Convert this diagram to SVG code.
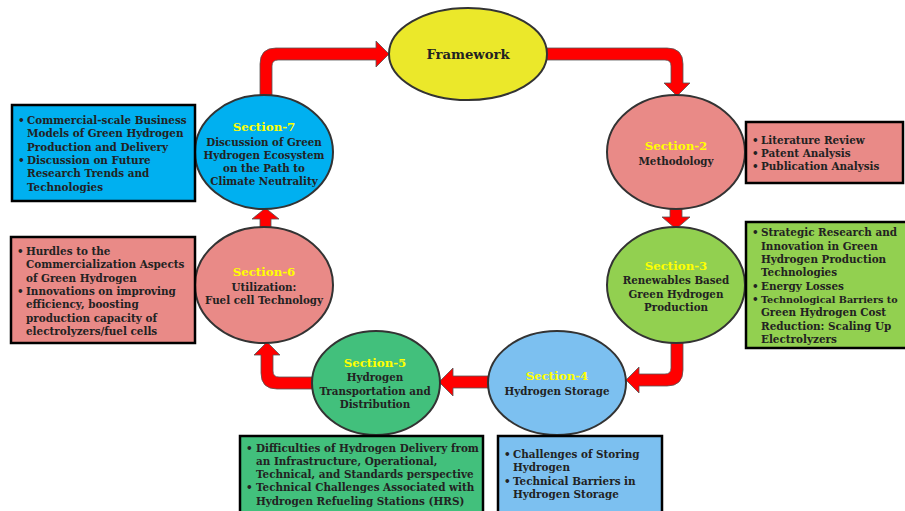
<svg xmlns="http://www.w3.org/2000/svg" width="905" height="511" viewBox="0 0 905 511">
<style>
text{font-family:"DejaVu Serif","Liberation Serif",serif;font-weight:bold;fill:#222;}
.t{font-size:10.4px;}
.c{font-size:10.3px;text-anchor:middle;}
.s{font-size:11.8px;text-anchor:middle;fill:#ffff00;}
.fw{font-size:13.2px;text-anchor:middle;}
.n{stroke:#333;stroke-width:2;}
.b{stroke:#000;stroke-width:2.5;}
.arr{fill:#ff0000;stroke:#555;stroke-width:0.8;stroke-linejoin:miter;}
.pink{fill:#e98a87;}
.yel{fill:#ebe82a;}
.grn{fill:#92d050;}
.lblue{fill:#7cc0f0;}
.dgrn{fill:#42c07c;}
.cyan{fill:#00b0f0;}
</style>
<rect width="905" height="511" fill="#ffffff"/>
<g id="connectors">
<path class="arr" d="M260,97 L260,64 Q260,48 276,48 L376,48 L376,41 L389,54 L376,67 L376,60 L278,60 Q272,60 272,66 L272,97 Z"/>
<path class="arr" d="M545,48 L667,48 Q683,48 683,64 L683,83 L690,83 L677,96 L664,83 L671,83 L671,66 Q671,60 665,60 L545,60 Z"/>
<path class="arr" d="M670,205 L670,217 L662,217 L676,229 L690,217 L682,217 L682,205 Z"/>
<path class="arr" d="M671,340 L671,368 Q671,374 665,374 L639,374 L639,367 L626,380 L639,393 L639,386 L667,386 Q683,386 683,370 L683,340 Z"/>
<path class="arr" d="M492,376 L453,376 L453,368 L439,382 L453,396 L453,388 L492,388 Z"/>
<path class="arr" d="M314,377 L279,377 Q273,377 273,371 L273,355 L280,355 L267,342 L254,355 L261,355 L261,373 Q261,389 277,389 L314,389 Z"/>
<path class="arr" d="M260,230 L260,219 L252,219 L265.5,208 L279,219 L271,219 L271,230 Z"/>
</g>
<g id="framework">
<ellipse class="n yel" cx="468" cy="54" rx="79" ry="46"/>
<text class="fw" x="468" y="59">Framework</text>
</g>
<g id="section2">
<ellipse class="n pink" cx="676" cy="152" rx="69" ry="57"/>
<text class="s" x="676" y="150">Section-2</text>
<text class="c" x="676" y="165">Methodology</text>
</g>
<g id="box2">
<rect class="b pink" x="746" y="122" width="157" height="61"/>
<text class="t" x="752" y="144">•</text><text class="t" x="761" y="144">Literature Review</text>
<text class="t" x="752" y="157">•</text><text class="t" x="761" y="157">Patent Analysis</text>
<text class="t" x="752" y="170">•</text><text class="t" x="761" y="170">Publication Analysis</text>
</g>
<g id="section3">
<ellipse class="n grn" cx="676" cy="285" rx="69" ry="58"/>
<text class="s" x="676" y="270">Section-3</text>
<text class="c" x="676" y="284">Renewables Based</text>
<text class="c" x="676" y="298">Green Hydrogen</text>
<text class="c" x="676" y="311">Production</text>
</g>
<g id="box3">
<rect class="b grn" x="746" y="222" width="170" height="126"/>
<text class="t" x="752" y="236">•</text><text class="t" x="761" y="236">Strategic Research and</text>
<text class="t" x="761" y="250">Innovation in Green</text>
<text class="t" x="761" y="263">Hydrogen Production</text>
<text class="t" x="761" y="276">Technologies</text>
<text class="t" x="752" y="290">•</text><text class="t" x="761" y="290">Energy Losses</text>
<text class="t" x="752" y="303">•</text><text class="t" x="761" y="303" style="font-size:9.6px">Technological Barriers to</text>
<text class="t" x="761" y="316">Green Hydrogen Cost</text>
<text class="t" x="761" y="330">Reduction: Scaling Up</text>
<text class="t" x="761" y="343">Electrolyzers</text>
</g>
<g id="section4">
<ellipse class="n lblue" cx="557" cy="383" rx="69" ry="52"/>
<text class="s" x="557" y="380">Section-4</text>
<text class="c" x="557" y="395">Hydrogen Storage</text>
</g>
<g id="box4">
<rect class="b lblue" x="498" y="436" width="164" height="78"/>
<text class="t" x="504" y="458">•</text><text class="t" x="513" y="458">Challenges of Storing</text>
<text class="t" x="513" y="471">Hydrogen</text>
<text class="t" x="504" y="485">•</text><text class="t" x="513" y="485">Technical Barriers in</text>
<text class="t" x="513" y="498">Hydrogen Storage</text>
</g>
<g id="section5">
<ellipse class="n dgrn" cx="376" cy="383" rx="64" ry="52"/>
<text class="s" x="375" y="367">Section-5</text>
<text class="c" x="375" y="381">Hydrogen</text>
<text class="c" x="375" y="395">Transportation and</text>
<text class="c" x="375" y="408">Distribution</text>
</g>
<g id="box5">
<rect class="b dgrn" x="240" y="436" width="243" height="78"/>
<text class="t" x="246" y="452">•</text><text class="t" x="256" y="452">Difficulties of Hydrogen Delivery from</text>
<text class="t" x="256" y="465">an Infrastructure, Operational,</text>
<text class="t" x="256" y="478">Technical, and Standards perspective</text>
<text class="t" x="246" y="491">•</text><text class="t" x="256" y="491">Technical Challenges Associated with</text>
<text class="t" x="256" y="505">Hydrogen Refueling Stations (HRS)</text>
</g>
<g id="section6">
<ellipse class="n pink" cx="264" cy="285" rx="69" ry="58"/>
<text class="s" x="264" y="276">Section-6</text>
<text class="c" x="264" y="291">Utilization:</text>
<text class="c" x="264" y="304">Fuel cell Technology</text>
</g>
<g id="box6">
<rect class="b pink" x="11" y="237" width="184" height="106"/>
<text class="t" x="17" y="255">•</text><text class="t" x="26" y="255">Hurdles to the</text>
<text class="t" x="26" y="268">Commercialization Aspects</text>
<text class="t" x="26" y="282">of Green Hydrogen</text>
<text class="t" x="17" y="295">•</text><text class="t" x="26" y="295">Innovations on improving</text>
<text class="t" x="26" y="308">efficiency, boosting</text>
<text class="t" x="26" y="322">production capacity of</text>
<text class="t" x="26" y="335">electrolyzers/fuel cells</text>
</g>
<g id="section7">
<ellipse class="n cyan" cx="264" cy="152" rx="69" ry="57"/>
<text class="s" x="264" y="131">Section-7</text>
<text class="c" x="264" y="146">Discussion of Green</text>
<text class="c" x="264" y="159">Hydrogen Ecosystem</text>
<text class="c" x="264" y="172">on the Path to</text>
<text class="c" x="264" y="185">Climate Neutrality</text>
</g>
<g id="box7">
<rect class="b cyan" x="12" y="105" width="183" height="96"/>
<text class="t" x="18" y="124">•</text><text class="t" x="27" y="124">Commercial-scale Business</text>
<text class="t" x="27" y="137">Models of Green Hydrogen</text>
<text class="t" x="27" y="151">Production and Delivery</text>
<text class="t" x="18" y="164">•</text><text class="t" x="27" y="164">Discussion on Future</text>
<text class="t" x="27" y="177">Research Trends and</text>
<text class="t" x="27" y="191">Technologies</text>
</g>
</svg>
